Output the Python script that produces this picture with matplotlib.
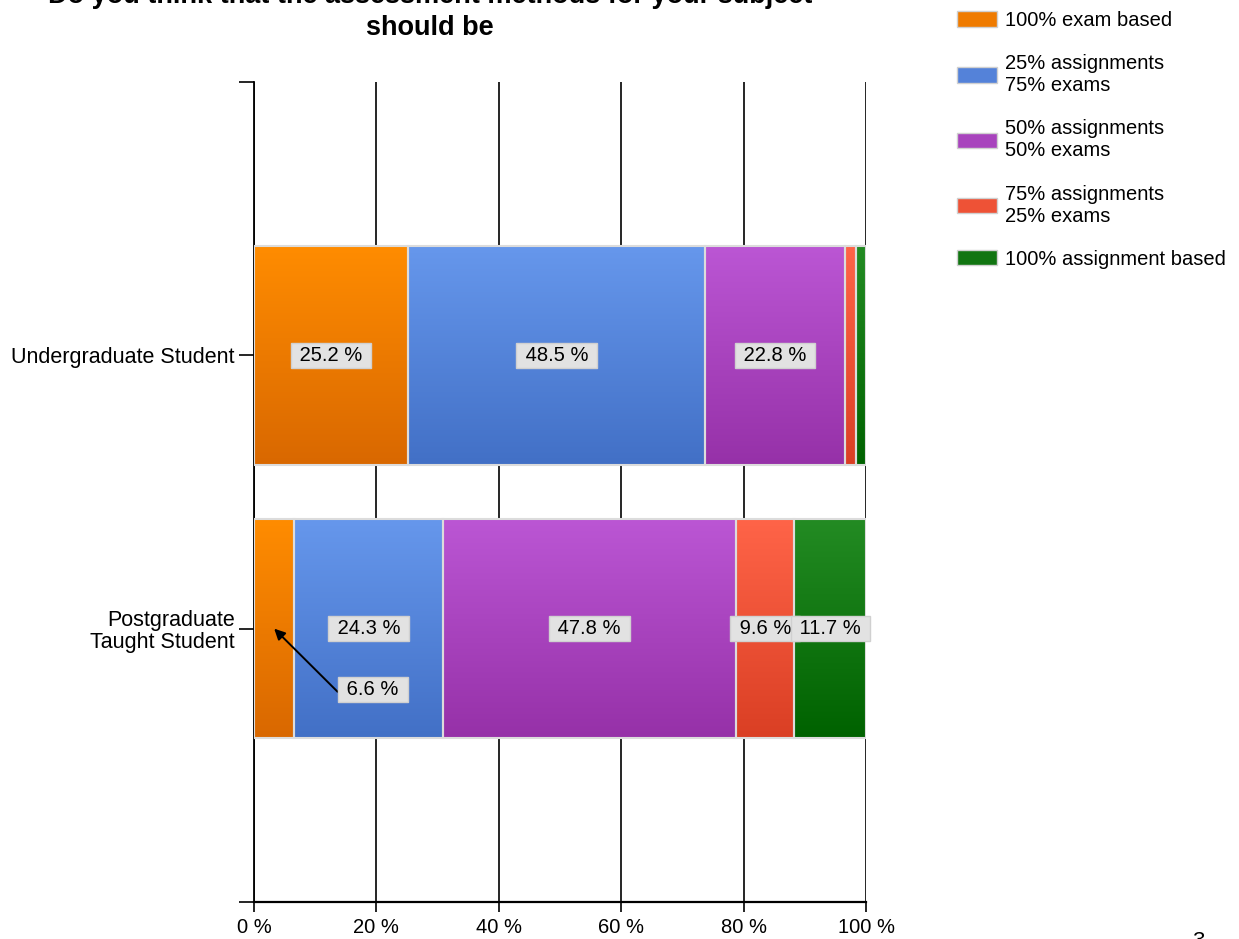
import numpy as np
import matplotlib.pyplot as plt
from matplotlib.colors import LinearSegmentedColormap
from matplotlib.patches import Patch

plt.rcParams['font.family'] = ['Liberation Sans', 'DejaVu Sans']

categories = ['Undergraduate Student', 'Postgraduate\nTaught Student']
options = ['100% exam based',
           '25% assignments\n75% exams',
           '50% assignments\n50% exams',
           '75% assignments\n25% exams',
           '100% assignment based']
undergrad = [25.2, 48.5, 22.8, 1.9, 1.6]
postgrad = [6.6, 24.3, 47.8, 9.6, 11.7]
x_ticks = [0, 20, 40, 60, 80, 100]
x_labels = ['0 %', '20 %', '40 %', '60 %', '80 %', '100 %']

# gradient colours per series (top -> bottom)
top_colors = ['#ff8c00', '#6697ec', '#bb56d4', '#ff6448', '#238b23']
bottom_colors = ['#d96800', '#4270c6', '#9631a8', '#da3f24', '#006200']
mid_colors = ['#ef7b00', '#5482d9', '#a843bd', '#ee5236', '#117511']

fig = plt.figure(figsize=(12.39, 9.39), dpi=100)
ax = fig.add_axes([0.205, 0.0394, 0.494, 0.8733])

ypos = [1, 2]
values = np.array([undergrad, postgrad])
grad = np.linspace(0, 1, 200).reshape(-1, 1)
box = dict(boxstyle='square,pad=0.16', fc='#e2e2e2', ec='#d0d0d0', lw=1)

left = np.zeros(len(ypos))
for j in range(len(options)):
    bars = ax.barh(ypos, values[:, j], left=left, height=0.8, color='none',
                   edgecolor='#dcdcdc', linewidth=1.5, zorder=3)
    cmap = LinearSegmentedColormap.from_list('g%d' % j, [top_colors[j], bottom_colors[j]])
    for b in bars:
        x0, y0, w, h = b.get_x(), b.get_y(), b.get_width(), b.get_height()
        ax.imshow(grad, cmap=cmap, aspect='auto', interpolation='bilinear',
                  extent=(x0, x0 + w, y0 + h, y0), zorder=2)
    left += values[:, j]

# value labels
for i, y in enumerate(ypos):
    start = 0
    for j in range(len(options)):
        v = values[i, j]
        c = start + v / 2
        txt = ' %.1f %% ' % v
        if v >= 8:
            ax.text(c, y, txt, ha='center', va='center', fontsize=14.5, bbox=box, zorder=5)
        elif v >= 5:
            ax.annotate(txt, xy=(c, y), xytext=(71, -44), textcoords='offset points',
                        ha='center', va='center', fontsize=14.5, bbox=box, zorder=5,
                        arrowprops=dict(arrowstyle='-|>', color='black', lw=1.4,
                                        mutation_scale=16, relpos=(0, 0.2),
                                        shrinkA=0, shrinkB=0))
        start += v

ax.set_xlim(0, 100)
ax.set_ylim(3, 0)
ax.set_xticks(x_ticks, x_labels)
ax.set_yticks([0, 1, 2, 3], [''] + categories + [''])
for lab in ax.get_yticklabels():
    lab.set_linespacing(1.05)
ax.tick_params(axis='x', length=7.5, width=1.2, pad=4, labelsize=14.5)
ax.tick_params(axis='y', length=10.8, width=1.2, pad=3, labelsize=15.5)
ax.xaxis.grid(True, color='black', lw=1.2, zorder=1)
ax.set_axisbelow(True)
for s in ['top', 'right']:
    ax.spines[s].set_visible(False)
ax.spines['left'].set_linewidth(1.3)
ax.spines['bottom'].set_linewidth(1.6)

handles = [Patch(facecolor=c, edgecolor='#d0d0d0', lw=1) for c in mid_colors]
fig.legend(handles, options, loc='upper left', bbox_to_anchor=(957 / 1239, 1 - 11 / 939),
           frameon=False, fontsize=14.5, handlelength=2.0, handleheight=0.8,
           handletextpad=0.4, labelspacing=1.2, borderpad=0, borderaxespad=0)

# title sits partly above the page edge, as on the scanned page
fig.text(0.347, 1 - 35 / 939, 'Do you think that the assessment methods for your subject\nshould be',
         ha='center', va='baseline', fontsize=19.5, fontweight='bold', linespacing=1.32)
fig.text(0.962, -0.008, '3', fontsize=16, va='baseline')

fig.savefig('out.png', dpi=100)
